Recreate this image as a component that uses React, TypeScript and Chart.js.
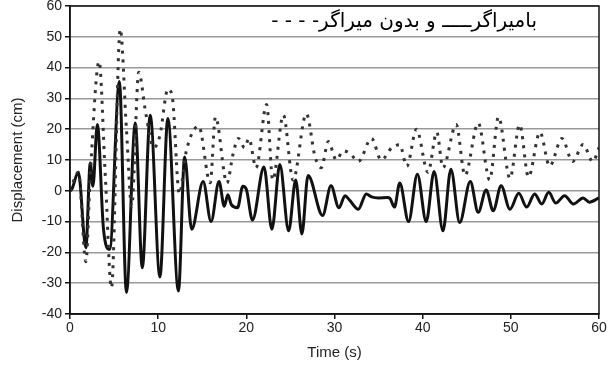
import React, { useEffect, useRef } from "react";
import { Chart, registerables } from "chart.js";

Chart.register(...registerables);

// With damper (solid line): time (s) and displacement (cm)
const timeWithDamper = [
  0, 0.2, 0.95, 1.8, 2.3, 2.6, 3.1, 3.8, 4.5, 5.6, 6.4, 7.4, 8.2, 9.1, 10.2, 11.1, 12.3, 13.0, 13.8,
  15.1, 16.0, 16.9, 17.5, 17.9, 18.3, 19.0, 19.6, 20.0, 20.7, 22.0, 22.9, 23.8, 24.8, 25.6, 26.3, 27.0,
  28.65, 29.6, 30.5, 31.2, 31.7, 32.7, 33.6, 34.2, 35.0, 36.0, 36.3, 36.8, 37.4, 38.4, 39.4, 40.4, 41.3,
  42.3, 43.2, 44.2, 45.4, 46.3, 47.2, 48.0, 48.9, 49.9, 50.9, 51.8, 52.7, 53.5, 54.3, 55.1, 56.1, 57.1,
  58.2, 58.9, 60,
];
const dispWithDamper = [
  0, 0.5, 6, -18.5, 9, 1.5, 21.5, -12.5, -19, 35.5, -33, 22, -25, 24.5, -28, 23.5, -32.5, 11, -12.5,
  3, -10, 3, -5, -1.3, -4.5, -5.5, 1.5, 0.5, -9.5, 7.7, -12.5, 8.5, -13, 3.5, -14, 5,
  -8, 1.6, -5.5, -1.6, -3, -6, -1, -2, -2.3, -2.2, -2.5, -5.3, 2.5, -10, 5.4, -10, 6.3,
  -13, 7, -10.3, 3, -7, 0.3, -6.5, 1.6, -6, -0.8, -5.3, -1, -4.3, -0.5, -4, -1.6, -4.3,
  -2.3, -3.7, -2.3,
];

// Without damper (dashed line)
const timeWithoutDamper = [
  0, 0.95, 1.8, 2.3, 3.3, 4.0, 4.7, 5.7, 6.4, 7.0, 7.8, 8.6, 9.5, 10.2, 11.1, 11.6, 12.4, 13.2, 14.6,
  15.9, 16.5, 17.8, 18.5, 19.1, 19.8, 20.3, 21.1, 22.3, 23.0, 24.2, 25.3, 26.8, 27.8, 28.5, 29.3, 30.2,
  31.0, 31.8, 32.7, 34.2, 35.3, 36.5, 37.4, 38.2, 39.3, 40.6, 41.6, 42.3, 43.8, 44.8, 46.3, 47.6, 48.6,
  49.9, 51.0, 52.0, 53.3, 54.4, 55.8, 57.0, 58.2, 59.3, 60,
];
const dispWithoutDamper = [
  0, 6, -23, 5, 42, 5, -31.5, 52.5, 20, -5, 38.5, 25, 14, 18, 33, 30.5, -1, 13, 21,
  2.6, 24, 2.5, 12, 17, 14, 17, 7.4, 28, 3.5, 24.6, 3.5, 25, 11, 7.5, 16, 10,
  13, 12, 9.5, 17, 10, 14, 15, 8, 20, 6, 19, 7.5, 21.5, 5, 22, 3.5, 24,
  4, 21.5, 4.5, 19, 8, 17, 9.5, 15, 9.5, 14,
];

const xTickValues = [0, 10, 20, 30, 40, 50, 60];
const yTickValues = [-40, -30, -20, -10, 0, 10, 20, 30, 40, 50, 60];

const legendText = "بامیراگرـــــ و بدون میراگر- - - -";
const xTitle = "Time (s)";
const yTitle = "Displacement (cm)";

const boxPlugin = {
  id: "plotBox",
  afterDraw(chart: any) {
    const { ctx, chartArea } = chart;
    const { left, top, right, bottom } = chartArea;
    ctx.save();
    ctx.strokeStyle = "#111";
    ctx.lineWidth = 1.5;
    ctx.strokeRect(left, top, right - left, bottom - top);
    ctx.restore();
  },
};

export default function App() {
  const canvasRef = useRef<HTMLCanvasElement | null>(null);

  useEffect(() => {
    document.body.style.margin = "0";
    const canvas = canvasRef.current;
    if (!canvas) return;
    const withPts = timeWithDamper.map((t, i) => ({ x: t, y: dispWithDamper[i] }));
    const withoutPts = timeWithoutDamper.map((t, i) => ({ x: t, y: dispWithoutDamper[i] }));

    const chart = new Chart(canvas, {
      type: "line",
      data: {
        datasets: [
          {
            label: "without",
            data: withoutPts,
            borderColor: "#333",
            borderWidth: 3,
            borderDash: [3, 6],
            pointRadius: 0,
            cubicInterpolationMode: "monotone",
            fill: false,
          },
          {
            label: "with",
            data: withPts,
            borderColor: "#111",
            borderWidth: 3,
            pointRadius: 0,
            cubicInterpolationMode: "monotone",
            fill: false,
          },
        ],
      },
      options: {
        animation: false,
        responsive: false,
        layout: { padding: { top: 6, right: 15, left: 0, bottom: 0 } },
        plugins: { legend: { display: false }, tooltip: { enabled: false } },
        scales: {
          x: {
            type: "linear",
            min: 0,
            max: 60,
            afterBuildTicks: (scale: any) => {
              scale.ticks = xTickValues.map((v) => ({ value: v }));
            },
            afterFit: (scale: any) => {
              scale.height = 52;
            },
            grid: { drawOnChartArea: false, tickLength: 5, tickColor: "#111", lineWidth: 1.5 },
            border: { color: "#111", width: 1.5 },
            ticks: {
              padding: 1,
              color: "#222",
              font: { family: "Liberation Sans, Arial, sans-serif", size: 14 },
              maxRotation: 0,
            },
            title: {
              display: true,
              text: xTitle,
              color: "#222",
              font: { family: "Liberation Sans, Arial, sans-serif", size: 15 },
              padding: { top: 0, bottom: 4 },
            },
          },
          y: {
            type: "linear",
            min: -40,
            max: 60,
            afterBuildTicks: (scale: any) => {
              scale.ticks = yTickValues.map((v) => ({ value: v }));
            },
            afterFit: (scale: any) => {
              scale.width = 70;
              scale.paddingTop = 0;
              scale.paddingBottom = 0;
            },
            grid: { color: "#999", lineWidth: 1.5, tickLength: 5, tickColor: "#111" },
            border: { color: "#111", width: 1.5 },
            ticks: {
              padding: 3,
              color: "#222",
              font: { family: "Liberation Sans, Arial, sans-serif", size: 14 },
            },
            title: {
              display: true,
              text: yTitle,
              color: "#222",
              font: { family: "Liberation Sans, Arial, sans-serif", size: 15 },
              padding: { top: 9, bottom: 0 },
            },
          },
        },
      },
      plugins: [boxPlugin],
    } as any);
    return () => chart.destroy();
  }, []);

  return (
    <div style={{ position: "relative", width: 614, height: 366 }}>
      <canvas ref={canvasRef} width={614} height={366} style={{ display: "block" }} />
      <div
        style={{
          position: "absolute",
          right: 77,
          top: 10,
          direction: "rtl",
          fontFamily: "'DejaVu Sans', sans-serif",
          fontSize: 20,
          lineHeight: 1,
          color: "#000",
          whiteSpace: "nowrap",
        }}
      >
        {legendText}
      </div>
    </div>
  );
}
